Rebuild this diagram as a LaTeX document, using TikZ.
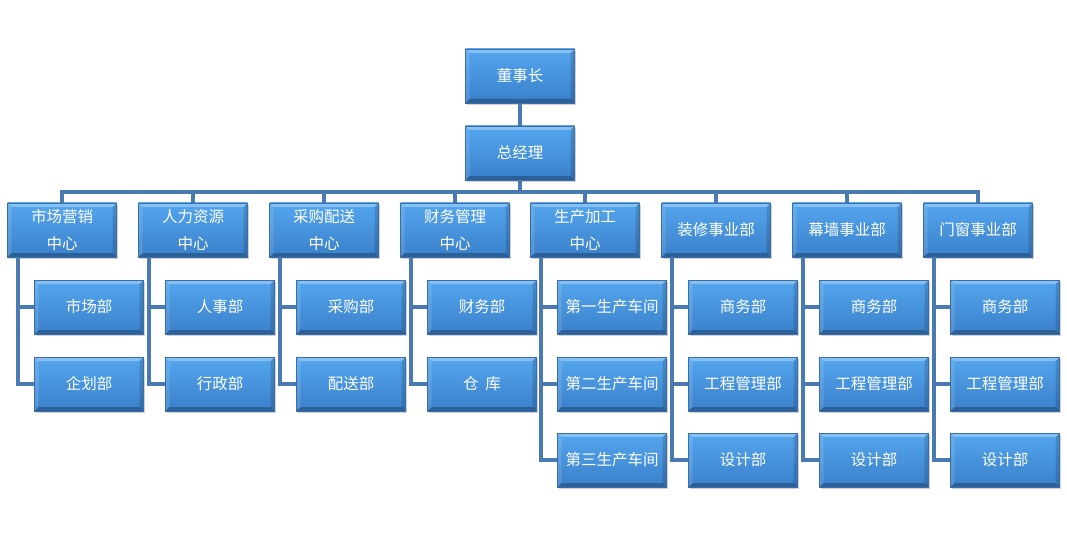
\documentclass[tikz,border=0pt]{standalone}
\usepackage{fontspec}
\setmainfont{Noto Sans CJK SC}
\usetikzlibrary{shadows}
\definecolor{boxtop}{RGB}{84,166,238}
\definecolor{boxbot}{RGB}{58,128,202}
\definecolor{boxedge}{RGB}{58,110,168}
\definecolor{linec}{RGB}{74,122,178}
\tikzset{
  box/.style={rectangle, minimum width=109pt, minimum height=54pt, inner sep=0pt,
    top color=boxtop, bottom color=boxbot, draw=boxedge, line width=0.6pt,
    text=white, align=center, font=\fontsize{15.5}{27}\selectfont,
    drop shadow={opacity=0.3, shadow xshift=1pt, shadow yshift=-2pt, fill=black!60},
    path picture={
      \fill[white,opacity=0.3] (path picture bounding box.north west) -- (path picture bounding box.north east)
        -- ([xshift=-4pt,yshift=-4pt]path picture bounding box.north east) -- ([xshift=4pt,yshift=-4pt]path picture bounding box.north west) -- cycle;
      \fill[white,opacity=0.12] (path picture bounding box.north west) -- ([xshift=4pt,yshift=-4pt]path picture bounding box.north west)
        -- ([xshift=4pt,yshift=4pt]path picture bounding box.south west) -- (path picture bounding box.south west) -- cycle;
      \fill[black,opacity=0.25] (path picture bounding box.south west) -- (path picture bounding box.south east)
        -- ([xshift=-4pt,yshift=4pt]path picture bounding box.south east) -- ([xshift=4pt,yshift=4pt]path picture bounding box.south west) -- cycle;
      \fill[black,opacity=0.15] (path picture bounding box.north east) -- ([xshift=-4pt,yshift=-4pt]path picture bounding box.north east)
        -- ([xshift=-4pt,yshift=4pt]path picture bounding box.south east) -- (path picture bounding box.south east) -- cycle;
    }},
  conn/.style={draw=linec, line width=3.2pt}
}
\begin{document}
\begin{tikzpicture}[x=1pt,y=-1pt]
\useasboundingbox (0,0) rectangle (1067,537);
\coordinate (bus) at (520,192);
% top levels
\node[box] (ceo) at (520,76) {董事长};
\node[box] (gm) at (520,153) {总经理};
% level 2
\node[box] (c1) at (62,230) {市场营销\\中心};
\node[box] (c2) at (193,230) {人力资源\\中心};
\node[box] (c3) at (324,230) {采购配送\\中心};
\node[box] (c4) at (455,230) {财务管理\\中心};
\node[box] (c5) at (585,230) {生产加工\\中心};
\node[box] (c6) at (716,230) {装修事业部};
\node[box] (c7) at (847,230) {幕墙事业部};
\node[box] (c8) at (978,230) {门窗事业部};
% children
\node[box] (d11) at (89,307) {市场部};
\node[box] (d12) at (89,384) {企划部};
\node[box] (d21) at (220,307) {人事部};
\node[box] (d22) at (220,384) {行政部};
\node[box] (d31) at (351,307) {采购部};
\node[box] (d32) at (351,384) {配送部};
\node[box] (d41) at (482,307) {财务部};
\node[box] (d42) at (482,384) {仓\ \ 库};
\node[box] (d51) at (612,307) {第一生产车间};
\node[box] (d52) at (612,384) {第二生产车间};
\node[box] (d53) at (612,460) {第三生产车间};
\node[box] (d61) at (743,307) {商务部};
\node[box] (d62) at (743,384) {工程管理部};
\node[box] (d63) at (743,460) {设计部};
\node[box] (d71) at (874,307) {商务部};
\node[box] (d72) at (874,384) {工程管理部};
\node[box] (d73) at (874,460) {设计部};
\node[box] (d81) at (1005,307) {商务部};
\node[box] (d82) at (1005,384) {工程管理部};
\node[box] (d83) at (1005,460) {设计部};
% connectors
\draw[conn] (ceo.south) -- (gm.north);
\draw[conn] (gm.south) -- (bus);
\draw[conn] (c1.north) -- (c1.north |- bus) -- (c8.north |- bus) -- (c8.north);
\foreach \c in {c2,c3,c4,c5,c6,c7} \draw[conn] (\c.north) -- (\c.north |- bus);
\foreach \p/\last/\kids in {c1/d12/{d11}, c2/d22/{d21}, c3/d32/{d31}, c4/d42/{d41},
    c5/d53/{d51,d52}, c6/d63/{d61,d62}, c7/d73/{d71,d72}, c8/d83/{d81,d82}} {
  \coordinate (t) at ([xshift=-44pt]\p.south);
  \draw[conn] (t) |- (\last.west);
  \foreach \k in \kids \draw[conn] (t |- \k.west) -- (\k.west);
}
\end{tikzpicture}
\end{document}
